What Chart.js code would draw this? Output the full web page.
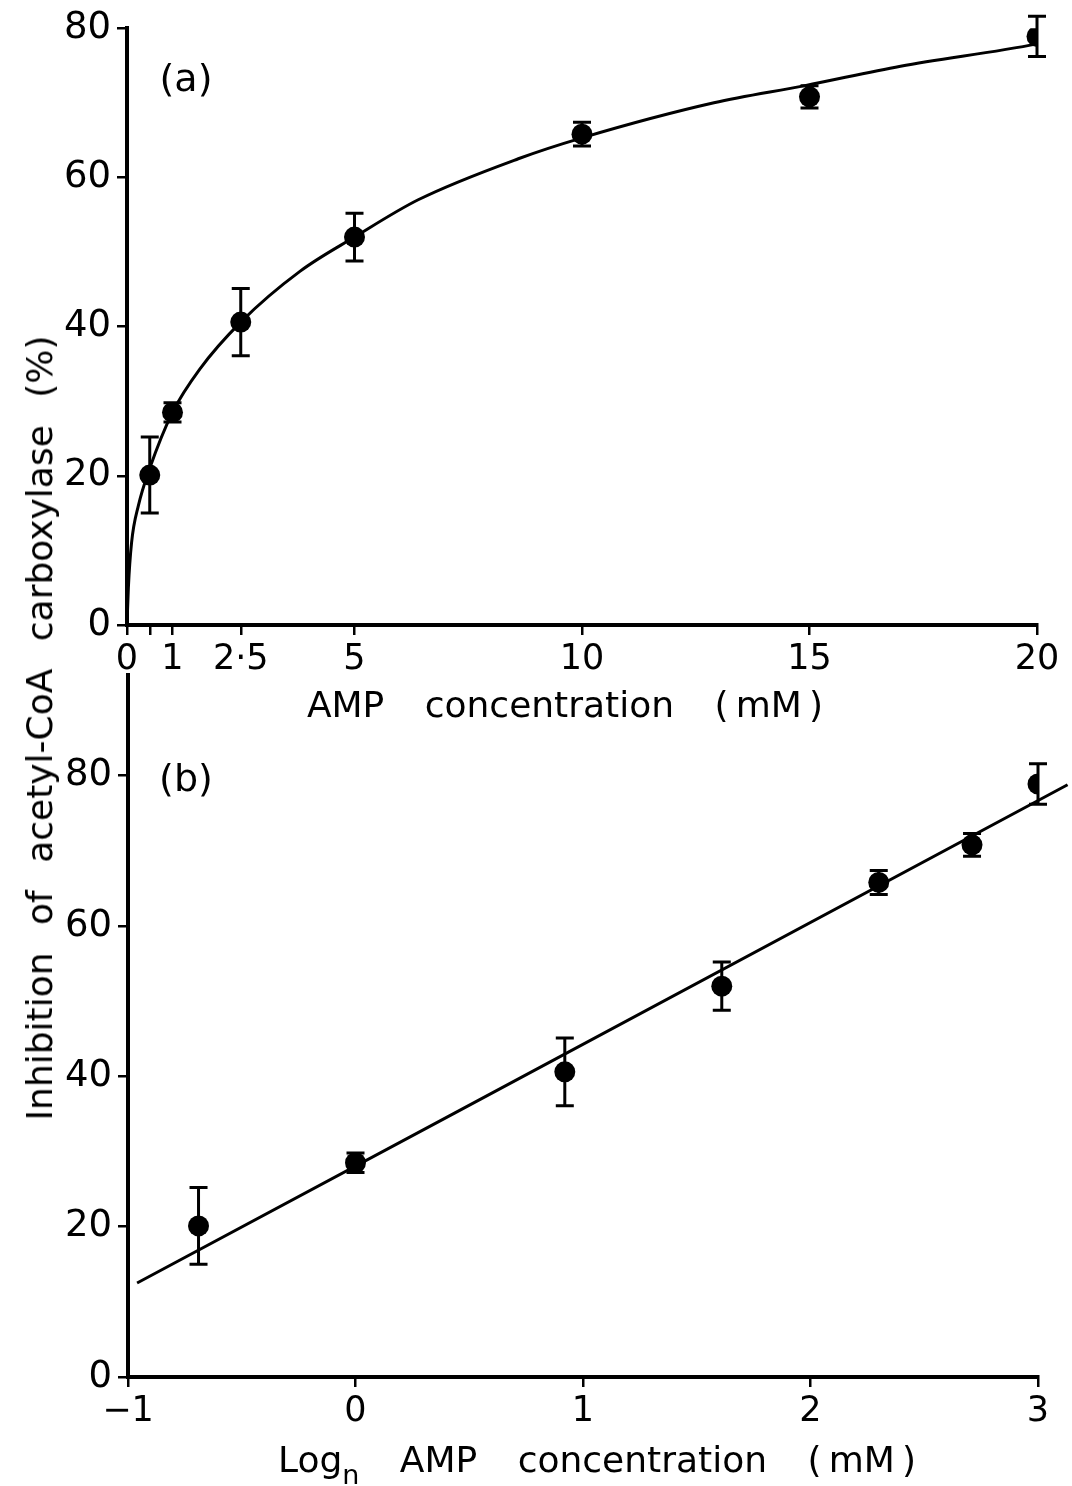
<!DOCTYPE html>
<html>
<head>
<meta charset="utf-8">
<script src="https://cdn.jsdelivr.net/npm/chart.js@4.4.1/dist/chart.umd.min.js"></script>
<style>
  html, body { margin: 0; padding: 0; background: #fff; }
  #wrap { position: relative; width: 1072px; height: 1486px; overflow: hidden;
          font-family: 'DejaVu Sans', sans-serif; color: #000; }
  canvas { position: absolute; left: 0; }
  .lbl { position: absolute; white-space: nowrap; line-height: 1; }
  .ctr { transform: translate(-50%, -50%); }
  .ytitle { transform: translate(-50%, -50%) rotate(-90deg); }
  sub { font-size: 0.75em; vertical-align: -0.45em; line-height: 0; }
</style>
</head>
<body>
<div id="wrap">
  <canvas id="panelA" width="1072" height="740" style="top:0;width:1072px;height:740px"></canvas>
  <canvas id="panelB" width="1072" height="846" style="top:640px;width:1072px;height:846px"></canvas>

  <div class="lbl ctr" style="left:186px;top:78px;font-size:38px">(a)</div>
  <div class="lbl ctr" style="left:186px;top:778px;font-size:38px">(b)</div>

  <div class="lbl ctr" style="left:565px;top:705px;font-size:36px;word-spacing:29px">AMP concentration (&#8201;mM&#8201;)</div>
  <div class="lbl ctr" style="left:597px;top:1460px;font-size:36px;word-spacing:29px">Log<sub>n</sub> AMP concentration (&#8201;mM&#8201;)</div>

  <div class="lbl ytitle" style="left:40px;top:728px;font-size:36px;word-spacing:16px">Inhibition of acetyl-CoA carboxylase (%)</div>
</div>

<script>
// AMP concentrations (mM) and their natural logs
const concentrationMM = [0.5, 1, 2.5, 5, 10, 15, 20];
const lnConcentration = [-0.69, 0, 0.92, 1.61, 2.30, 2.71, 3.00];

// Inhibition of acetyl-CoA carboxylase (%) with error (+/-)
const inhibitionPct = [20.1, 28.5, 40.6, 52.0, 65.8, 70.8, 78.9];
const inhibitionErr = [5.1, 1.3, 4.5, 3.2, 1.6, 1.5, 2.7];

// Hand-fitted saturation curve for panel (a)
const curveAx = [0, 0.03, 0.1, 0.25, 0.5, 1, 1.6, 2.5, 3.8, 5, 6.4, 8.6, 10, 12.9, 14.9, 17.0, 20, 20.7];
const curveAy = [0, 5, 11, 16, 21, 28.5, 34.3, 40.6, 47.4, 52, 57, 62.5, 65.3, 70.0, 72.3, 74.9, 77.9, 78.9];

// Regression line for panel (b)
const lineBx = [-0.96, 3.13];
const lineBy = [12.5, 78.8];

// Axis ticks and their labels
const ticksAx = [0, 0.5, 1, 2.5, 5, 10, 15, 20];
const tickLabelsAx = ['0', '', '1', '2\u00B75', '5', '10', '15', '20'];
const ticksBx = [-1, 0, 1, 2, 3];
const tickLabelsBx = ['\u22121', '0', '1', '2', '3'];
const ticksY = [0, 20, 40, 60, 80];
const tickLabelsY = ['0', '20', '40', '60', '80'];

const FONT = 'DejaVu Sans';

// Draws vertical error bars with caps for the marker dataset
const errorBars = {
  id: 'errorBars',
  beforeDatasetsDraw(chart, args, opts) {
    const { ctx } = chart;
    const xs = chart.scales.x, ys = chart.scales.y;
    const ds = chart.data.datasets[opts.datasetIndex];
    ctx.save();
    ctx.strokeStyle = '#000';
    ctx.lineWidth = opts.lineWidth;
    ds.data.forEach((p, i) => {
      const e = opts.errors[i];
      const px = xs.getPixelForValue(p.x);
      const top = ys.getPixelForValue(p.y + e);
      const bot = ys.getPixelForValue(p.y - e);
      ctx.beginPath();
      ctx.moveTo(px, top); ctx.lineTo(px, bot);
      ctx.moveTo(px - opts.cap, top); ctx.lineTo(px + opts.cap, top);
      ctx.moveTo(px - opts.cap, bot); ctx.lineTo(px + opts.cap, bot);
      ctx.stroke();
    });
    ctx.restore();
  }
};

function toPoints(xs, ys) { return xs.map((x, i) => ({ x: x, y: ys[i] })); }

function axisLook() {
  return {
    grid: { display: true, drawOnChartArea: false, drawTicks: true, tickLength: 10, color: '#000', lineWidth: 2.5 },
    border: { display: true, color: '#000', width: 4 }
  };
}

function makePanel(canvasId, cfg) {
  const yAxis = Object.assign({
    type: 'linear', min: 0, max: cfg.yMax,
    afterBuildTicks: s => { s.ticks = ticksY.map(v => ({ value: v })); },
    afterFit: s => { s.width = cfg.left; },
    ticks: { callback: (v, i) => tickLabelsY[i], font: { family: FONT, size: 37 }, color: '#000', padding: 6 }
  }, axisLook());
  const xAxis = Object.assign({
    type: 'linear', min: cfg.xMin, max: cfg.xMax,
    afterBuildTicks: s => { s.ticks = cfg.xTicks.map(v => ({ value: v })); },
    afterFit: s => { s.height = cfg.bottom; },
    ticks: { callback: (v, i) => cfg.xLabels[i], font: { family: FONT, size: 35 }, color: '#000', padding: 4, maxRotation: 0, autoSkip: false }
  }, axisLook());

  return new Chart(document.getElementById(canvasId), {
    type: 'scatter',
    data: {
      datasets: [
        {
          type: 'scatter',
          data: toPoints(cfg.px, inhibitionPct),
          pointRadius: 10.5,
          pointBackgroundColor: '#000',
          pointBorderWidth: 0,
          order: 0
        },
        {
          type: 'line',
          data: toPoints(cfg.lx, cfg.ly),
          borderColor: '#000',
          borderWidth: 3,
          pointRadius: 0,
          fill: false,
          cubicInterpolationMode: 'monotone',
          clip: false,
          order: 1
        }
      ]
    },
    options: {
      responsive: false,
      animation: false,
      devicePixelRatio: 1,
      events: [],
      layout: { autoPadding: false, padding: { top: cfg.top, right: cfg.right, left: 0, bottom: 0 } },
      plugins: {
        legend: { display: false },
        tooltip: { enabled: false },
        errorBars: { datasetIndex: 0, errors: inhibitionErr, cap: 9, lineWidth: 3 }
      },
      scales: { x: xAxis, y: yAxis }
    },
    plugins: [errorBars]
  });
}

// Panel (a): inhibition against AMP concentration
makePanel('panelA', {
  top: 23, right: 35, left: 127, bottom: 115,
  xMin: 0, xMax: 20, yMax: 80,
  xTicks: ticksAx, xLabels: tickLabelsAx,
  px: concentrationMM, lx: curveAx, ly: curveAy
});

// Panel (b): inhibition against ln AMP concentration
makePanel('panelB', {
  top: 35, right: 34, left: 128, bottom: 109,
  xMin: -1, xMax: 3, yMax: 93.4,
  xTicks: ticksBx, xLabels: tickLabelsBx,
  px: lnConcentration, lx: lineBx, ly: lineBy
});
</script>
</body>
</html>
